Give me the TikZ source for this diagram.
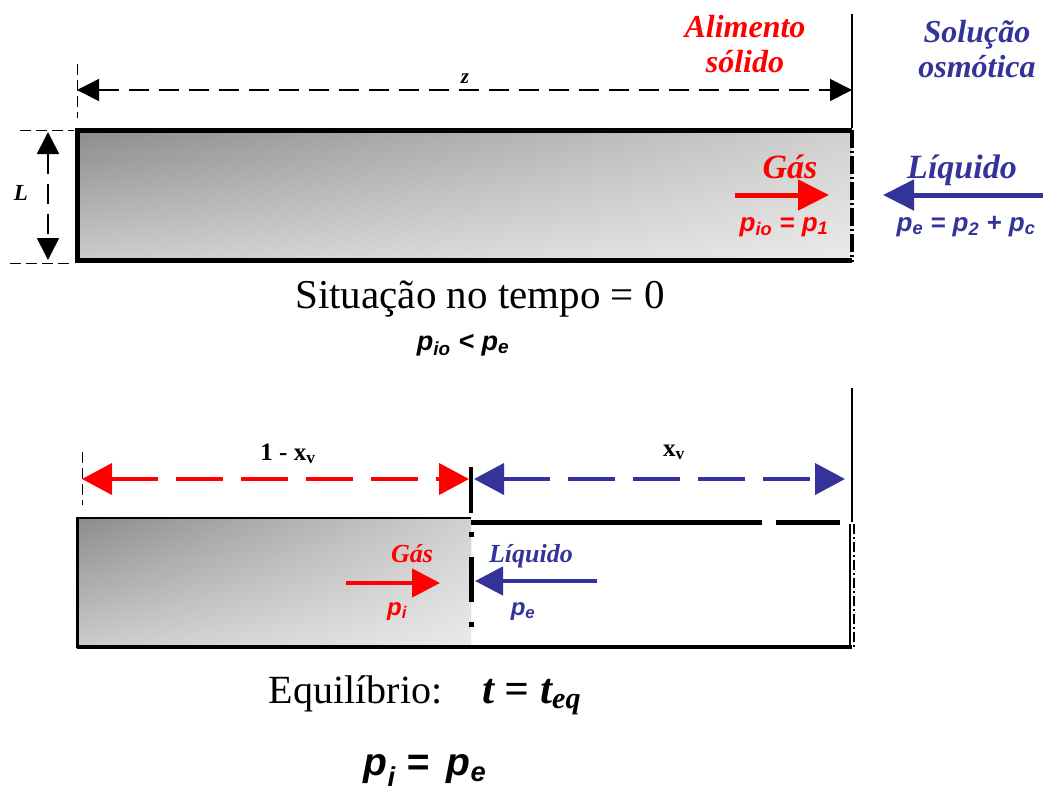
\documentclass[tikz,border=0pt]{standalone}
\usepackage{fontspec}
\setmainfont{Liberation Serif}
\newfontfamily\arialfont{Liberation Sans}
\usetikzlibrary{arrows.meta, backgrounds, fadings}
\definecolor{gasred}{RGB}{255,0,0}
\definecolor{liqblue}{RGB}{51,51,153}

\tikzfading[name=clareia, left color=transparent!100, right color=transparent!40]

\tikzset{
  fluxo/.style={line width=5pt, -{Triangle[length=31pt,width=30pt]}},
  fluxop/.style={line width=4.5pt, -{Triangle[length=28pt,width=28pt]}},
  cota/.style={line width=1.6pt, dash pattern=on 20pt off 10pt,
    {Triangle[length=22pt,width=22pt]}-{Triangle[length=22pt,width=22pt]}},
  cotafase/.style={line width=4pt, dash pattern=on 47pt off 18pt,
    {Triangle[length=30pt,width=31pt]}-{Triangle[length=30pt,width=31pt]}},
  guia/.style={line width=1pt, dash pattern=on 11pt off 5pt},
  rotulo/.style={font=\fontsize{26}{35}\selectfont\bfseries\itshape, anchor=base},
  titulo/.style={font=\fontsize{32}{35}\selectfont\bfseries\itshape, anchor=base, align=center},
  fase/.style={font=\fontsize{34}{36}\selectfont\bfseries\itshape, anchor=base},
  formula/.style={font=\fontsize{26}{28}\selectfont\arialfont\bfseries\itshape, anchor=base},
  formulag/.style={font=\fontsize{24}{26}\selectfont\arialfont\bfseries\itshape, anchor=base},
  legenda/.style={font=\fontsize{41}{43}\selectfont, anchor=base},
  solido/.style={top color=black!45, bottom color=black!20},
}

\begin{document}
\begin{tikzpicture}[x=1pt, y=-1pt]
\useasboundingbox (0,0) rectangle (1043,793);

%%%%%%%%%%%%%%% Situacao no tempo = 0

\begin{pgfonlayer}{background}
\shade [solido] (77,130) rectangle (852,260);
\fill [white, path fading=clareia] (77,130) rectangle (852,260);
\end{pgfonlayer}

\draw [line width=5pt] (852,130) -- (77,130) -- (77,260) -- (852,260);
\draw [line width=4pt, dash pattern=on 18pt off 3pt on 2pt off 3pt] (852,130) -- (852,262);
\draw [line width=1.2pt] (852,14) -- (852,128);

\coordinate (zA) at (77,90);
\coordinate (zB) at (852,90);
\draw [guia] (77,64) -- (77,118);
\draw [cota] (zA) -- (zB);
\node [font=\fontsize{21}{22}\selectfont\bfseries\itshape, anchor=base] (zlabel) at (465,83) {z};

\coordinate (LA) at (48,132);
\coordinate (LB) at (48,260);
\draw [guia] (20,130) -- (74,130);
\draw [guia] (10,263) -- (70,263);
\draw [cota] (LA) -- (LB);
\node [font=\fontsize{23}{24}\selectfont\bfseries\itshape, anchor=base] (Llabel) at (21,200) {L};

\node [titulo, gasred] (alimento) at (745,72) {Alimento\\sólido};
\node [titulo, liqblue] (solucao) at (977,77) {Solução\\osmótica};

\node [fase, gasred] (gas0) at (790,178) {Gás};
\coordinate (gas0A) at (735,195);
\coordinate (gas0B) at (829,195);
\draw [fluxo, gasred] (gas0A) -- (gas0B);
\node [formula, gasred] (pio) at (784,231) {p\textsubscript{io} = p\textsubscript{1}};

\node [fase, liqblue] (liq0) at (962,178) {Líquido};
\coordinate (liq0A) at (1043,195);
\coordinate (liq0B) at (883,195);
\draw [fluxo, liqblue] (liq0A) -- (liq0B);
\node [formula, liqblue] (pe0) at (966,231) {p\textsubscript{e} = p\textsubscript{2} + p\textsubscript{c}};

\node [legenda] (tempo) at (480,308) {Situação no tempo = 0};
\node [formulag, font=\fontsize{27}{29}\selectfont\arialfont\bfseries\itshape] (menor) at (463,350) {p\textsubscript{io} < p\textsubscript{e}};

%%%%%%%%%%%%%%% Equilibrio

\begin{pgfonlayer}{background}
\shade [solido] (77,518) rectangle (471,647);
\fill [white, path fading=clareia] (77,518) rectangle (471,647);
\end{pgfonlayer}

\draw [line width=2pt] (471,518) -- (77,518);
\draw [line width=3pt] (77,517) -- (77,648);
\draw [line width=4.5pt] (77,647) -- (852,647);
\draw [line width=5pt] (471,522) -- (762,522);
\draw [line width=5pt] (776,522) -- (840,522);
\draw [line width=1.2pt] (850,524) -- (850,647);
\draw [line width=1.2pt, dash pattern=on 10pt off 3pt on 2pt off 3pt] (854,524) -- (854,647);
\draw [line width=1.2pt] (852,388) -- (852,522);
\draw [line width=5pt, dash pattern=on 5pt off 20pt on 45pt off 20pt on 5pt off 30pt] (471,532) -- (471,647);

\draw [guia] (82,452) -- (82,505);
\draw [line width=4pt] (471,467) -- (471,513);

\coordinate (solA) at (82,479);
\coordinate (solB) at (469,479);
\coordinate (liqA) at (474,479);
\coordinate (liqB) at (845,479);
\draw [cotafase, gasred] (solA) -- (solB);
\draw [cotafase, liqblue] (liqA) -- (liqB);
\node [font=\fontsize{25}{26}\selectfont\bfseries, anchor=base] (umxv) at (288,460) {1 - x\textsubscript{v}};
\node [font=\fontsize{25}{26}\selectfont\bfseries, anchor=base] (xv) at (674,456) {x\textsubscript{v}};

\node [rotulo, gasred] (gas1) at (412,562) {Gás};
\coordinate (gas1A) at (346,583);
\coordinate (gas1B) at (440,583);
\draw [fluxop, gasred] (gas1A) -- (gas1B);
\node [formulag, gasred] (pi) at (397,615) {p\textsubscript{i}};

\node [rotulo, liqblue] (liq1) at (531,562) {Líquido};
\coordinate (liq1A) at (597,581);
\coordinate (liq1B) at (475,581);
\draw [fluxop, liqblue] (liq1A) -- (liq1B);
\node [formulag, liqblue] (pe1) at (523,615) {p\textsubscript{e}};

\node [legenda, font=\fontsize{40}{42}\selectfont] (equil) at (425,703) {Equilíbrio:\quad{\fontsize{43}{45}\selectfont\bfseries\itshape t = t\textsubscript{eq}}};
\node [formulag, inner sep=1pt, font=\fontsize{39}{41}\selectfont\arialfont\bfseries\itshape] (igual) at (425,775) {p\textsubscript{i} = \,p\textsubscript{e}};

\end{tikzpicture}
\end{document}
